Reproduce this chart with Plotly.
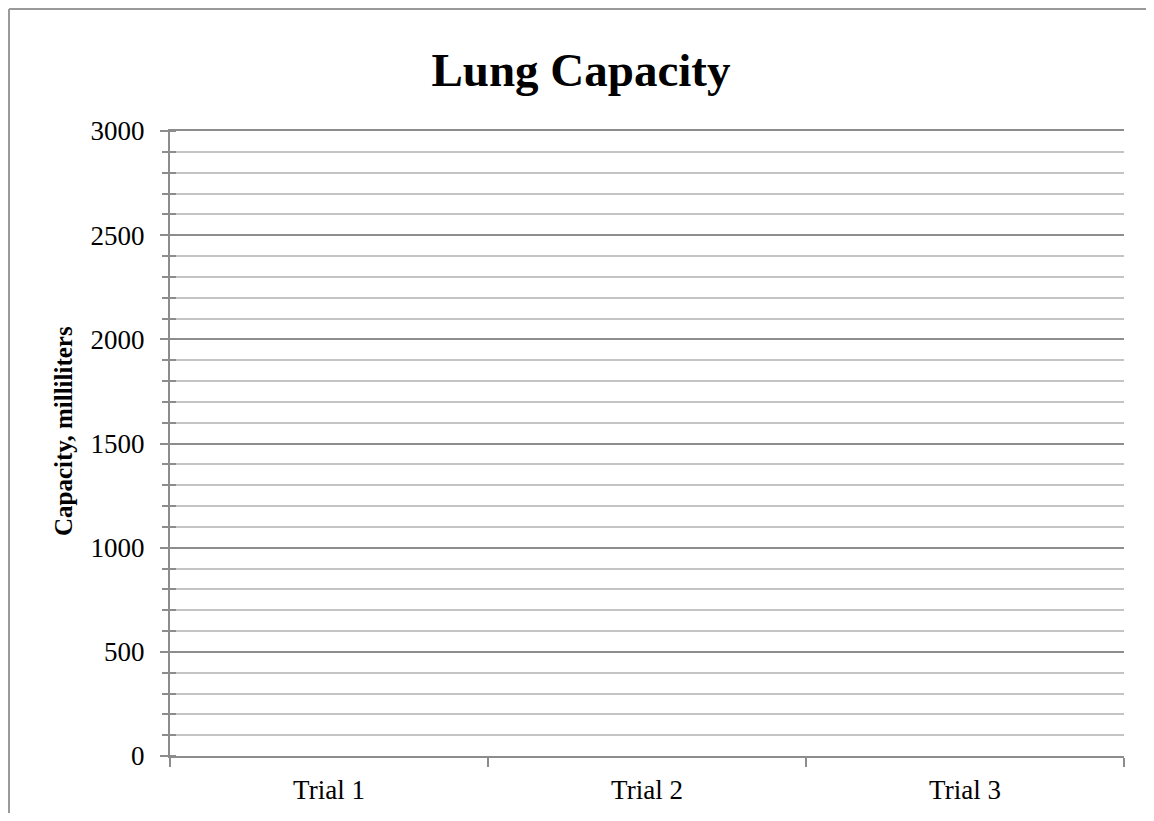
import plotly.graph_objects as go

categories = ["Trial 1", "Trial 2", "Trial 3"]
capacity_ml = [None, None, None]
y_ticks = [0, 500, 1000, 1500, 2000, 2500, 3000]

OFF = 8  # default page body margin
W, H = 1154 - 2 * OFF, 821 - 2 * OFF
ML, MT = 170 - OFF, 131 - OFF
PW, PH = 954, 625
MR, MB = W - ML - PW, H - MT - PH

FONT = "Liberation Serif"
AX = "#8c8c8c"

fig = go.Figure()
fig.add_trace(go.Bar(x=categories, y=capacity_ml, showlegend=False, hoverinfo="skip"))
fig.add_trace(go.Bar(x=categories, y=capacity_ml, yaxis="y2", showlegend=False, hoverinfo="skip"))

bx = (9 - 170) / PW
by = 1 + (131 - 9) / PH
border = dict(color="#9a9a9a", width=2)

fig.update_layout(
    width=W, height=H,
    margin=dict(l=ML, r=MR, t=MT, b=MB, autoexpand=False),
    paper_bgcolor="white", plot_bgcolor="white",
    title=dict(text="<b>Lung Capacity</b>", x=(581 - OFF) / W, xanchor="center",
               y=1 - (70 - OFF) / H, yanchor="middle", yref="container",
               font=dict(family=FONT, size=47, color="black")),
    font=dict(family=FONT, color="black"),
    xaxis=dict(type="category", categoryarray=categories, range=[-0.5, 2.5],
               showline=True, linecolor=AX, linewidth=2, mirror=True,
               ticks="outside", ticklen=9, tickwidth=2, tickcolor=AX,
               tickson="boundaries", showgrid=False, zeroline=False,
               tickfont=dict(family=FONT, size=27), ticklabelstandoff=9,
               automargin=False, fixedrange=True),
    yaxis=dict(range=[0, 3000], tickvals=y_ticks, showline=True, linecolor=AX, linewidth=2,
               ticks="outside", ticklen=8, tickwidth=2, tickcolor=AX,
               showgrid=True, gridcolor="#8e8e8e", gridwidth=1.5, zeroline=False,
               tickfont=dict(family=FONT, size=27), ticklabelstandoff=10,
               minor=dict(dtick=100, showgrid=True, gridcolor="#c4c4c4", gridwidth=1.5,
                          ticks="outside", ticklen=6, tickwidth=2, tickcolor=AX),
               automargin=False, fixedrange=True),
    yaxis2=dict(range=[0, 3000], overlaying="y", side="left", showgrid=False,
                showticklabels=False, ticks="", zeroline=False, showline=False,
                tickvals=[],
                minor=dict(dtick=100, showgrid=False, ticks="inside", ticklen=6,
                           tickwidth=2, tickcolor=AX),
                automargin=False, fixedrange=True),
    annotations=[dict(text="<b>Capacity, milliliters</b>", textangle=-90,
                      xref="paper", yref="paper", x=(63 - 170) / PW, y=(756 - 431) / PH,
                      xanchor="center", yanchor="middle", showarrow=False,
                      font=dict(family=FONT, size=25, color="black"))],
    shapes=[
        dict(type="line", xref="paper", yref="paper", x0=bx, x1=bx,
             y0=-(MB + 40) / PH, y1=by, line=border, layer="below"),
        dict(type="line", xref="paper", yref="paper", x0=bx, x1=(W + 40 - ML) / PW,
             y0=by, y1=by, line=border, layer="below"),
    ],
)

fig.write_html("out.html")
